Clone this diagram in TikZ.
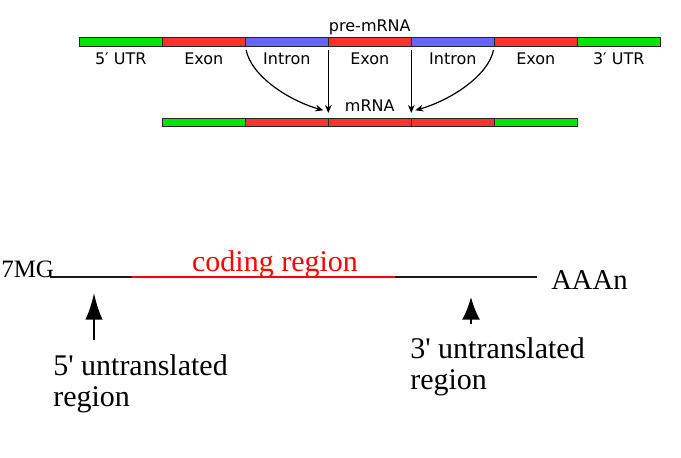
\documentclass[tikz,border=0pt]{standalone}
\usepackage{fontspec}
\setmainfont{Liberation Serif}
\newfontfamily\dejavu{DejaVu Sans}
\usepackage{tikz}
\usetikzlibrary{arrows.meta}
\definecolor{segred}{RGB}{255,51,51}
\definecolor{segblue}{RGB}{102,102,255}
\definecolor{seggreen}{RGB}{0,230,0}
\tikzstyle{seg}=[rectangle,draw=black!85,line width=0.7pt,inner sep=0pt,outer sep=0pt,minimum width=62.25pt,minimum height=6.3pt]
\tikzstyle{segtext}=[font=\dejavu\fontsize{12}{14}\selectfont,inner sep=0pt,anchor=base]
\tikzstyle{splice}=[line width=0.9pt,-{Stealth[length=6pt,width=5pt]}]
\tikzstyle{bigtext}=[font=\fontsize{22.5}{23.25}\selectfont,inner sep=0pt,align=left,anchor=north west]
\tikzstyle{bigarrow}=[line width=1.5pt,-{Latex[length=20pt,width=13pt]}]
\newcommand{\seg}[4]{\node[seg,fill=#4] (#1) at (#2,#3) {}}
\newcommand{\segl}[3]{\node[segtext] (#1) at (#2,64) {#3}}

\begin{document}
\begin{tikzpicture}[x=0.75pt,y=-0.75pt]
  \useasboundingbox (0,0) rectangle (681,457);
  % pre-mRNA
  \seg{p1}{120.8}{41.8}{seggreen};
  \seg{p2}{203.8}{41.8}{segred};
  \seg{p3}{286.8}{41.8}{segblue};
  \seg{p4}{369.8}{41.8}{segred};
  \seg{p5}{452.8}{41.8}{segblue};
  \seg{p6}{535.8}{41.8}{segred};
  \seg{p7}{618.8}{41.8}{seggreen};
  \node[segtext] (pre) at (369.8,31) {pre-mRNA};
  \segl{l1}{120.8}{5′ UTR};
  \segl{l2}{203.8}{Exon};
  \segl{l3}{286.8}{Intron};
  \segl{l4}{369.8}{Exon};
  \segl{l5}{452.8}{Intron};
  \segl{l6}{535.8}{Exon};
  \segl{l7}{618.8}{3′ UTR};
  % mRNA
  \seg{m1}{203.8}{122.5}{seggreen};
  \seg{m2}{286.8}{122.5}{segred};
  \seg{m3}{369.8}{122.5}{segred};
  \seg{m4}{452.8}{122.5}{segred};
  \seg{m5}{535.8}{122.5}{seggreen};
  \node[segtext] (mat) at (369.8,111.5) {mRNA};
  % splicing
  \draw[splice,shorten <=3pt] (p3.south west) .. controls +(6,30) and +(-35,-10) .. ([shift={(-5,-8)}]m2.north east);
  \draw[splice,shorten <=3pt,shorten >=4pt] (p4.south west) -- (m2.north east);
  \draw[splice,shorten <=3pt,shorten >=4pt] (p5.south west) -- (m3.north east);
  \draw[splice,shorten <=3pt] (p6.south west) .. controls +(-6,30) and +(35,-10) .. ([shift={(4,-8)}]m3.north east);

  % mature transcript
  \coordinate (c0) at (50,277);
  \coordinate (c1) at (132,277);
  \coordinate (c2) at (395,277);
  \coordinate (c3) at (537,277);
  \draw[line width=1.5pt,black!90] (c0) -- (c1);
  \draw[line width=2pt,red] (c1) -- (c2);
  \draw[line width=1.5pt,black!90] (c2) -- (c3);
  \node[font=\fontsize{18.75}{20}\selectfont,inner sep=0pt,anchor=base west] (cap) at (1,277.7) {7MG};
  \node[font=\fontsize{22.5}{24}\selectfont,inner sep=0pt,anchor=base,text=red] (coding) at (275,271.5) {coding region};
  \node[font=\fontsize{21.5}{22}\selectfont,inner sep=0pt,anchor=base west] (tail) at (551,289.3) {AAAn};
  \node[bigtext] (utr5) at (53,354) {5\textquotesingle{} untranslated\\region};
  \node[bigtext] (utr3) at (410,337) {3\textquotesingle{} untranslated\\region};
  \coordinate (f5) at (94,340);
  \coordinate (h5) at (94,293);
  \coordinate (f3) at (471,324);
  \coordinate (h3) at (471,297);
  \draw[bigarrow] (f5) -- (h5);
  \draw[bigarrow,-{Latex[length=17pt,width=13.5pt]}] (f3) -- (h3);
\end{tikzpicture}
\end{document}
